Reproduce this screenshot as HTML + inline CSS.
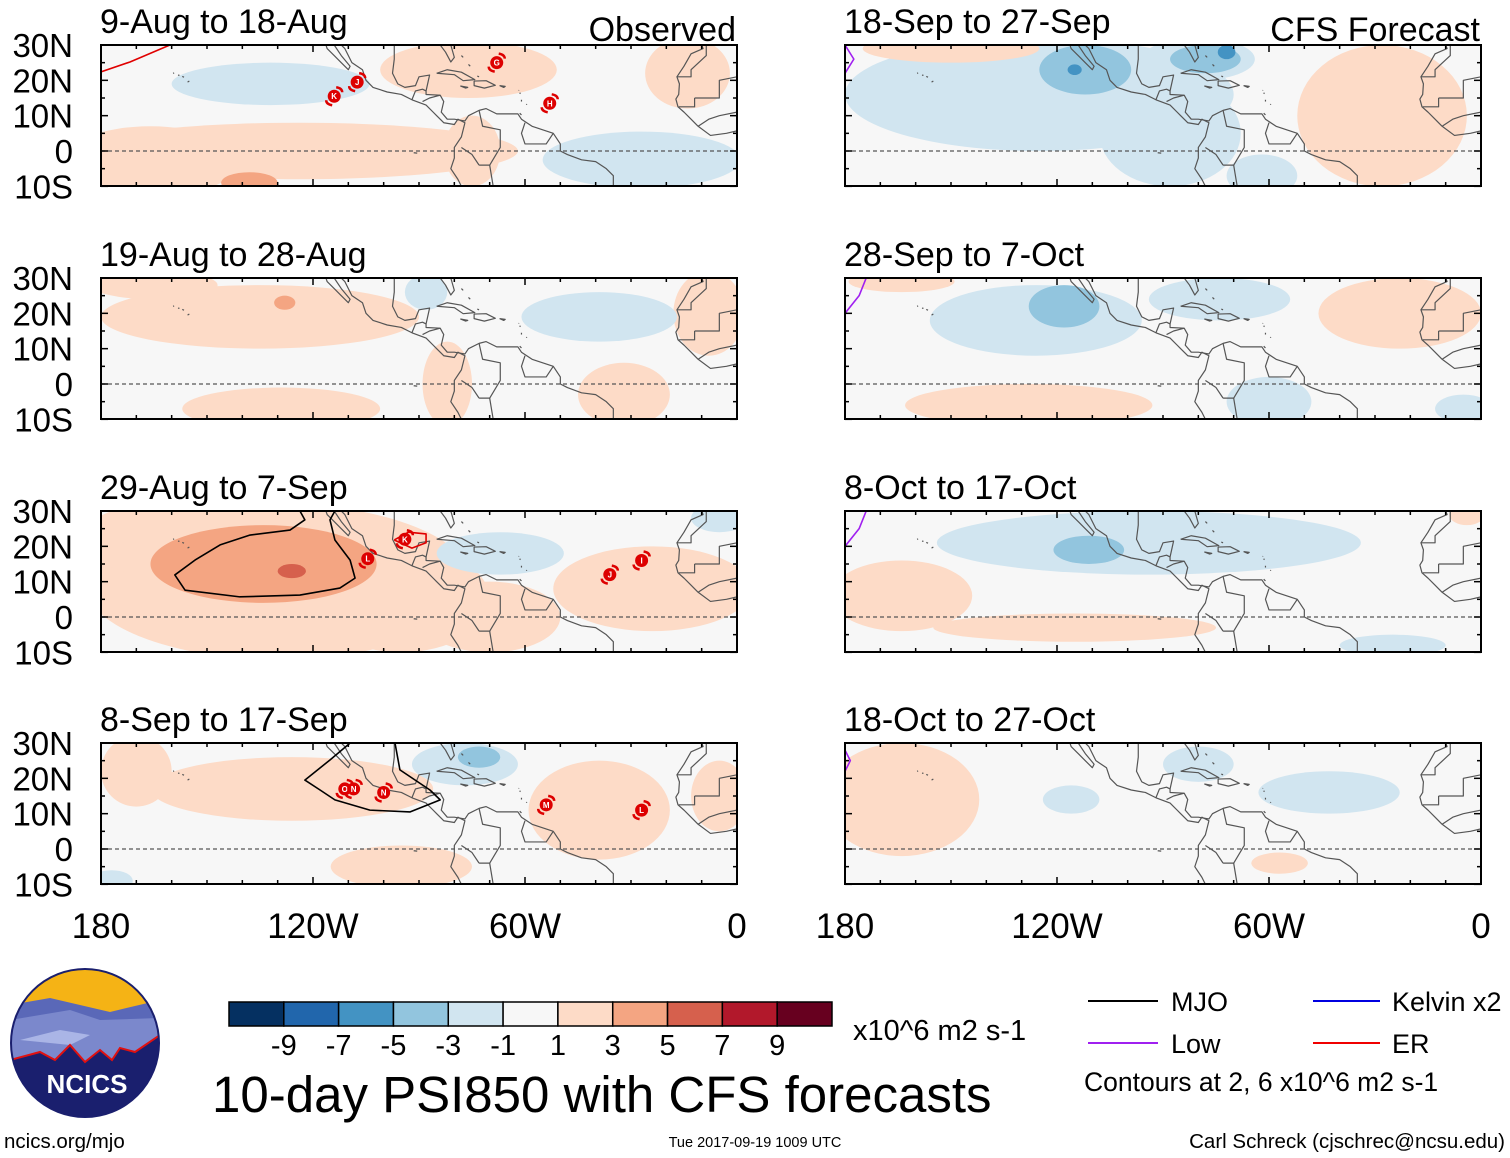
<!DOCTYPE html>
<html><head><meta charset="utf-8">
<style>
html,body{margin:0;padding:0;background:#fff;}
svg{display:block;font-family:"Liberation Sans",Arial,sans-serif;}
</style></head>
<body>
<svg id="chart" width="1510" height="1158" viewBox="0 0 1510 1158" xmlns="http://www.w3.org/2000/svg">
<rect x="0" y="0" width="1510" height="1158" fill="#fff"/>
<g id="panels"></g>
<g id="legend"></g>
</svg>
<script>
const NS="http://www.w3.org/2000/svg";
const colorLevels=[-9,-7,-5,-3,-1,1,3,5,7,9];
const colorFills=["#053061","#2166ac","#4393c3","#92c5de","#d1e5f0","#f7f7f7","#fddbc7","#f4a582","#d6604d","#b2182b","#67001f"];
const panelTitles=["9-Aug to 18-Aug","19-Aug to 28-Aug","29-Aug to 7-Sep","8-Sep to 17-Sep","18-Sep to 27-Sep","28-Sep to 7-Oct","8-Oct to 17-Oct","18-Oct to 27-Oct"];
const latTicks=[30,20,10,0,-10];
const latLabels=["30N","20N","10N","0","10S"];
const lonTicks=[-180,-120,-60,0];
const lonLabels=["180","120W","60W","0"];
// anomaly blobs: [lon, lat, rx(deg), ry(deg), value]
const blobs1=[[-124,0,62,8,2],[-166,-3,25,10,2],[-76,23,25,8,2],[-14,22,12,10,2],[-75,0,8,10,2],[-132,19,28,6,-2],[-27,-2.5,28,8,-2],[-138,-9,8,3,4]];
const blobs2=[[-165,28,18,4,2],[-135,19,45,9,2],[-129,-7,28,6,2],[-82,0,7,12,2],[-32,-3,13,9,2],[-8,20,10,12,2],[-128,23,3,2,4],[-88,26,6,5,-2],[-39,19,22,7,-2]];
const blobs3=[[-130,10,55,22,2],[-165,22,20,10,2],[-95,5,25,15,2],[-24,8,28,12,2],[-70,0,20,10,2],[-134,15,32,11,4],[-126,13,4,2,6],[-67,18,18,6,-2],[-5,28,8,4,-2]];
const blobs4=[[-170,22,10,10,2],[-126,17,40,9,2],[-95,-5,20,6,2],[-39,11,20,14,2],[-5,15,8,10,2],[-77,24,15,6,-2],[-73,26,6,3,-4],[-177,-9,6,3,-2]];
const blobs5=[[-125,16,55,16,-2],[-88,5,20,15,-2],[-80,26,16,6,-2],[-62,-7,10,6,-2],[-112,23,13,7,-4],[-78,26,10,4,-4],[-115,23,2,1.5,-6],[-72,28,2.5,2,-6],[-28,10,24,20,2],[-150,29,25,4,2]];
const blobs6=[[-126,18,30,10,-2],[-74,24,20,6,-2],[-60,-5,12,7,-2],[-5,-7,8,4,-2],[-118,22,10,6,-4],[-23,20,23,10,2],[-128,-6,35,6,2],[-164,29,15,3,2]];
const blobs7=[[-94,21,60,9,-2],[-25,-8,15,3,-2],[-111,19,10,4,-4],[-164,6,20,10,2],[-115,-3,40,4,2],[-4,29,5,3,2]];
const blobs8=[[-164,14,22,16,2],[-57,-4,8,3,2],[-116,14,8,4,-2],[-80,24,10,5,-2],[-43,16,20,6,-2]];
const allBlobs=[blobs1,blobs2,blobs3,blobs4,blobs5,blobs6,blobs7,blobs8];
// contours: [color, points]
const contours=[
 [["#e00000",[[-180,22.4],[-171.8,25.2],[-160.5,30]]]],
 [],
 [["#000",[[-123.7,30],[-122.3,27.5],[-126.5,24.6],[-137.8,23.2],[-146.3,20.4],[-153.4,16.1],[-159.1,11.9],[-156.2,7.6],[-140.7,5.7],[-123.7,6.2],[-112.4,8.2],[-108.1,11],[-109.5,16.1],[-113.8,21.8],[-115.2,27.5],[-113.8,30]]],
  ["#e00000",[[-97,21.8],[-93,24],[-88,23.5],[-88,21],[-92,19.5],[-97,21.8]]]],
 [["#000",[[-109.5,30],[-115.2,25.2],[-122.3,19.5],[-118,16.7],[-113.8,13.9],[-103.9,11],[-92.5,10.5],[-84,13.9],[-86.9,16.7],[-95.4,22.4],[-96.8,30]]]],
 [["#a020f0",[[-180,30],[-177.5,26],[-180,22]]]],
 [["#a020f0",[[-180,20],[-176,25],[-174,30]]]],
 [["#a020f0",[[-180,20],[-176,25],[-174,30]]]],
 [["#a020f0",[[-180,28],[-178.5,25],[-180,22]]]]
];
// storms: [lon, lat, letter]
const storms=[
 [[-114,15.5,"K"],[-107.5,19.5,"J"],[-68,25,"G"],[-53,13.5,"H"]],[],
 [[-104.5,16.5,"L"],[-94,22,"K"],[-36,12,"J"],[-27,16,"I"]],
 [[-111,17,"O"],[-108.5,17,"N"],[-100,16,"N"],[-54,12.5,"M"],[-27,11,"L"]],[],[],[],[]
];
const coast=[
 [[-117,32],[-116,29],[-114,27],[-112,25],[-110,23],[-109.5,24],[-112,27],[-114,30],[-113,31],[-111,29],[-109,25],[-106,23],[-105,20],[-103,18],[-99,16.7],[-95,16],[-92,14.5],[-88,13],[-86,11],[-85,10],[-83,8],[-80,7.5],[-79,9],[-77,8],[-78,4],[-80,1],[-80,-2],[-81,-5],[-79,-8],[-77,-12]],
 [[-97,30],[-97,26],[-97.5,22],[-96,19],[-94,18],[-91,18.5],[-90,21],[-87,21.5],[-88,17],[-88,16],[-84,15.8],[-83,14],[-83.7,11],[-82,9],[-80,9],[-77,8.5],[-76,10],[-73,11.5],[-71,12],[-70,11.5],[-68,10.5],[-64,10.5],[-62,10.5],[-61,9],[-58,7],[-55,6],[-52,5],[-50,2],[-50,0],[-48,-1],[-44,-2.5],[-40,-3],[-37,-5],[-35,-7],[-35,-10]],
 [[-84,30],[-82.5,28],[-81,25.2],[-80,26.5],[-81,30]],
 [[-85,22],[-82,23],[-78,22.3],[-74.2,20.2],[-77.5,19.9],[-80,21.6],[-85,22]],
 [[-74.4,19.8],[-71,19.9],[-68.4,18.6],[-71.5,17.8],[-74.4,18.5],[-74.4,19.8]],
 [[-78.3,18.4],[-76.2,18],[-76.8,17.8],[-78.3,18.4]],
 [[-67.2,18.5],[-65.6,18.3],[-66,18],[-67.2,18.5]],
 [[-10,30],[-9.6,29],[-13,27.5],[-15,24],[-17,21],[-16.3,19],[-16.5,16],[-17.3,14.7],[-16.7,12.5],[-15,11],[-13,9],[-11,7],[-7.5,4.4],[-3,5],[0,5.7]],
 [[-17,21],[-13,21],[-13,23],[-8.7,27],[-8.7,30]],[[-12,15],[-5,15],[-5,20],[0,21]],[[-11,7],[-8,9],[-5,10],[0,11]],[[-16.5,12.5],[-12,12.5],[-12,15]],
 [[-73,11.5],[-72,7],[-67,6],[-67,1],[-70,-4],[-73,-4]],[[-60,8],[-61,5],[-60,2],[-57,2],[-54,2],[-52,5]],[[-70,-4],[-69,-10]],[[-78,1],[-75,-1],[-73,-4]],
 [[-89,14],[-87,15],[-84,15.8]],[[-92,14.5],[-91,17],[-89,17.5],[-88,17]],
 [[-78,27],[-77.5,26.5]],[[-76,24.5],[-75.5,24]],[[-73.5,21.2],[-73,21]],
 [[-155.5,19.5],[-155,19.8]],[[-157,21.1],[-156.5,20.9]],[[-158.2,21.5],[-157.8,21.4]],[[-159.6,22],[-159.3,22.1]],
 [[-91.5,-0.5],[-90.5,-0.6]],[[-61,14],[-61,14.5]],[[-61.5,16.2],[-61.3,16.5]],[[-61.8,17.1],[-61.7,17.2]],[[-59.6,13.1],[-59.5,13.3]],[[-61.5,10.7],[-61,10.2]]
];

const LW=636,LH=141,SC=LW/180;
const panelX=[101,101,101,101,845,845,845,845];
const panelY=[45,278,511,743,45,278,511,743];
function mk(tag,attrs,parent){const e=document.createElementNS(NS,tag);for(const k in attrs)e.setAttribute(k,attrs[k]);if(parent)parent.appendChild(e);return e;}
function colorFor(v){let i=0;while(i<colorLevels.length&&v>colorLevels[i])i++;return colorFills[i];}
const root=document.getElementById("panels");
const defs=mk("defs",{},root);

for(let p=0;p<8;p++){
  const x0=panelX[p],y0=panelY[p];
  const xs=lon=>x0+(lon+180)*SC;
  const ys=lat=>y0+(30-lat)*SC;
  const g=mk("g",{},root);
  
  
  const cp=mk("clipPath",{id:"cp"+p},defs);
  mk("rect",{x:x0,y:y0,width:LW,height:LH},cp);
  const inner=mk("g",{"clip-path":"url(#cp"+p+")"},g);
  mk("rect",{x:x0,y:y0,width:LW,height:LH,fill:"#f7f7f7"},inner);
  const fillG=mk("g",{},inner);
  
  
  const sorted=allBlobs[p].slice().sort((a,b)=>Math.abs(a[4])-Math.abs(b[4]));
  sorted.forEach(b=>{
    const e=mk("ellipse",{cx:xs(b[0]),cy:ys(b[1]),rx:b[2]*SC,ry:b[3]*SC,fill:colorFor(b[4])},fillG);
    
    
  });
  mk("line",{x1:x0,x2:x0+LW,y1:ys(0),y2:ys(0),stroke:"#555","stroke-width":1.3,"stroke-dasharray":"4,3"},inner);
  const cg=mk("g",{fill:"none",stroke:"#555","stroke-width":1.2,"stroke-linejoin":"round"},inner);
  
  
  coast.forEach(line=>{mk("polyline",{points:line.map(q=>xs(q[0])+","+ys(q[1])).join(" ")},cg);});
  contours[p].forEach(c=>{
    const pl=mk("polyline",{points:c[1].map(q=>xs(q[0])+","+ys(q[1])).join(" "),fill:"none",stroke:c[0],"stroke-width":1.6,"stroke-linejoin":"round"},inner);
    
    
  });
  storms[p].forEach(s=>{
    const sg=mk("g",{},inner);
    
    
    const cx=xs(s[0]),cy=ys(s[1]);
    mk("path",{d:`M${cx+2},${cy-9} q6,1 6,5 M${cx-2},${cy+9} q-6,-1 -6,-5`,stroke:"#d00",fill:"none","stroke-width":2.5},sg);
    mk("circle",{cx:cx,cy:cy,r:6.5,fill:"#d00"},sg);
    const t=mk("text",{x:cx,y:cy+3,"font-size":8,"font-weight":"bold",fill:"#fff","text-anchor":"middle"},sg);t.textContent=s[2];
  });
  mk("rect",{x:x0,y:y0,width:LW,height:LH,fill:"none",stroke:"#000","stroke-width":2},g);
  for(let lon=-180;lon<=0;lon+=10){
    const big=lon%60===0, L=big?7:4;
    mk("line",{x1:xs(lon),x2:xs(lon),y1:y0,y2:y0+L,stroke:"#000","stroke-width":1.5},g);
    mk("line",{x1:xs(lon),x2:xs(lon),y1:y0+LH,y2:y0+LH-L,stroke:"#000","stroke-width":1.5},g);
  }
  for(let lat=-10;lat<=30;lat+=5){
    const big=lat%10===0, L=big?7:4;
    mk("line",{x1:x0,x2:x0+L,y1:ys(lat),y2:ys(lat),stroke:"#000","stroke-width":1.5},g);
    mk("line",{x1:x0+LW,x2:x0+LW-L,y1:ys(lat),y2:ys(lat),stroke:"#000","stroke-width":1.5},g);
  }
  if(p<4){
    latTicks.forEach((lat,i)=>{
      const t=mk("text",{x:73,y:ys(lat)+12,"font-size":33,"text-anchor":"end",fill:"#000"},g);
      
      
      t.textContent=latLabels[i];
    });
  }
  if(p===3||p===7){
    lonTicks.forEach((lon,i)=>{
      const t=mk("text",{x:xs(lon),y:y0+LH+54,"font-size":35,"text-anchor":"middle",fill:"#000"},g);
      
      
      t.textContent=lonLabels[i];
    });
  }
  const tt=mk("text",{x:x0-1,y:y0-12,"font-size":34,fill:"#000"},g);
  
  
  tt.textContent=panelTitles[p];
  if(p===0||p===4){
    const st=mk("text",{x:x0+LW-1,y:y0-4,"font-size":34,"text-anchor":"end",fill:"#000"},g);
    
    
    st.textContent=p===0?"Observed":"CFS Forecast";
  }
}

const lg=document.getElementById("legend");
const cb=mk("g",{},lg);


const cbX=229,cbW=603/colorFills.length;
colorFills.forEach((c,i)=>{
  const r=mk("rect",{x:cbX+i*cbW,y:1002,width:cbW,height:24,fill:c,stroke:"#000","stroke-width":1.5},cb);
  
  
});
colorLevels.forEach((v,i)=>{
  const t=mk("text",{x:cbX+(i+1)*cbW,y:1055,"font-size":29,"text-anchor":"middle",fill:"#000"},cb);
  
  
  t.textContent=String(v);
});
</script>
<div style="position:absolute;left:0;top:0;width:1510px;height:1158px;pointer-events:none;">
<svg width="1510" height="1158" style="position:absolute;left:0;top:0" xmlns="http://www.w3.org/2000/svg">
 <text x="853" y="1040" font-size="29" font-family="Liberation Sans, sans-serif">x10^6 m2 s-1</text>
 <text x="212" y="1112" font-size="51" font-family="Liberation Sans, sans-serif">10-day PSI850 with CFS forecasts</text>
 <g font-family="Liberation Sans, sans-serif" font-size="27">
  <line x1="1088" x2="1158" y1="1001" y2="1001" stroke="#000" stroke-width="2"/>
  <text x="1171" y="1011">MJO</text>
  <line x1="1313" x2="1380" y1="1001" y2="1001" stroke="#0000e0" stroke-width="2"/>
  <text x="1392" y="1011">Kelvin x2</text>
  <line x1="1088" x2="1158" y1="1043" y2="1043" stroke="#a020f0" stroke-width="2"/>
  <text x="1171" y="1053">Low</text>
  <line x1="1313" x2="1380" y1="1043" y2="1043" stroke="#f00000" stroke-width="2"/>
  <text x="1392" y="1053">ER</text>
  <text x="1084" y="1091" font-size="26.5">Contours at 2, 6 x10^6 m2 s-1</text>
 </g>
 <text x="4" y="1148" font-size="20.5" font-family="Liberation Sans, sans-serif">ncics.org/mjo</text>
 <text x="755" y="1147" font-size="14.5" text-anchor="middle" font-family="Liberation Sans, sans-serif">Tue 2017-09-19 1009 UTC</text>
 <text x="1505" y="1148" font-size="20.5" text-anchor="end" font-family="Liberation Sans, sans-serif">Carl Schreck (cjschrec@ncsu.edu)</text>
 <g>
  <defs><clipPath id="logoclip"><circle cx="85" cy="1043" r="74"/></clipPath></defs>
  <g clip-path="url(#logoclip)">
   <rect x="10" y="968" width="150" height="150" fill="#f5b315"/>
   <path d="M10,1005 L50,998 L110,1012 L160,1000 L160,1118 L10,1118Z" fill="#5a68b8"/>
   <path d="M10,1020 L70,1010 L100,1020 L160,1018 L160,1118 L10,1118Z" fill="#7b88cc"/>
   <path d="M20,1040 L60,1030 L90,1035 L70,1045 Z" fill="#aab5e6"/>
   <path d="M10,1060 L40,1052 L55,1060 L70,1045 L85,1062 L100,1050 L112,1060 L120,1048 L135,1052 L160,1035 L160,1118 L10,1118Z" fill="#1a1f6e" stroke="#e01010" stroke-width="2"/>
  </g>
  <circle cx="85" cy="1043" r="74" fill="none" stroke="#1a1f6e" stroke-width="2"/>
  <text x="87" y="1093" font-size="26" font-weight="bold" fill="#fff" text-anchor="middle" font-family="Liberation Sans, sans-serif">NCICS</text>
 </g>
</svg>
</div>
</body></html>
